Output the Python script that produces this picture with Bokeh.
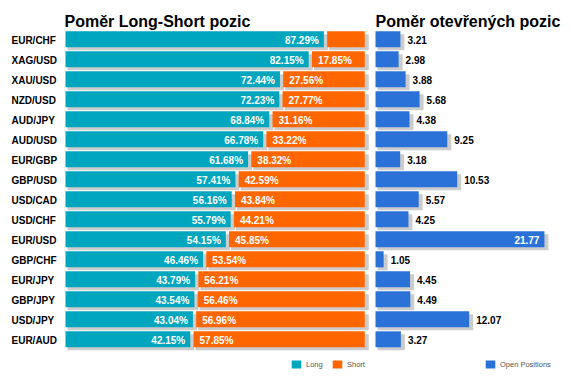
from bokeh.plotting import figure
from bokeh.models import (ColumnDataSource, Range1d, Label, Legend, LegendItem)
from bokeh.core.properties import value
from bokeh.embed import file_html
from bokeh.resources import INLINE

# ---------------- data ----------------
pairs = ["EUR/CHF", "XAG/USD", "XAU/USD", "NZD/USD", "AUD/JPY", "AUD/USD", "EUR/GBP", "GBP/USD",
         "USD/CAD", "USD/CHF", "EUR/USD", "GBP/CHF", "EUR/JPY", "GBP/JPY", "USD/JPY", "EUR/AUD"]
long_pct = [87.29, 82.15, 72.44, 72.23, 68.84, 66.78, 61.68, 57.41,
            56.16, 55.79, 54.15, 46.46, 43.79, 43.54, 43.04, 42.15]
short_pct = [12.71, 17.85, 27.56, 27.77, 31.16, 33.22, 38.32, 42.59,
             43.84, 44.21, 45.85, 53.54, 56.21, 56.46, 56.96, 57.85]
open_pos = [3.21, 2.98, 3.88, 5.68, 4.38, 9.25, 3.18, 10.53,
            5.57, 4.25, 21.77, 1.05, 4.45, 4.49, 12.07, 3.27]
title_left = "Poměr Long-Short pozic"
title_right = "Poměr otevřených pozic"
legend_long = "Long"
legend_short = "Short"
legend_open = "Open Positions"

# ---------------- style ----------------
CYAN = "#00A5BE"
ORANGE = "#FF6600"
BLUE = "#2B72D8"
SHADOW = "#CCCCCC"
FONT = "Liberation Sans"

W, H = 563, 371
LPX = 2.96      # px per percent (left panel)
RPX = 7.76      # px per unit (right panel)
YPX = 20.0      # px per row
L0 = 65         # frame px of 0% in left panel
R0 = 375        # frame px of 0 in right panel
TOP_ROW = 38.8  # frame px of first row centre
BAR_H = 0.8
GAP = 1.1       # gap (in %) between long and short bar

n = len(pairs)
idx = list(range(n))

y_start = (H - TOP_ROW) / YPX     # bottom of frame in row units
y_end = -TOP_ROW / YPX            # top of frame

p = figure(width=W, height=H, output_backend="svg", toolbar_location=None,
           x_range=Range1d(-L0 / LPX, (W - L0) / LPX),
           y_range=Range1d(y_start, y_end),
           x_axis_location=None, y_axis_location=None,
           min_border=0, outline_line_color=None)
p.extra_x_ranges = {"right": Range1d(-R0 / RPX, (W - R0) / RPX)}
p.xgrid.visible = False
p.ygrid.visible = False
p.background_fill_color = "white"

sx_l = 2 / LPX
ex_l = 4 / LPX
sx_r = 2 / RPX
ex_r = 4 / RPX
dy = 3 / YPX

top = [i - BAR_H / 2 for i in idx]
bot = [i + BAR_H / 2 for i in idx]
short_left = [l + GAP for l in long_pct]
short_right = [l + GAP + s for l, s in zip(long_pct, short_pct)]

src = ColumnDataSource(dict(
    pair=pairs, y=idx, top=top, bot=bot,
    long=long_pct, short=short_pct, sl=short_left, sr=short_right, opn=open_pos,
    zero=[0.0] * n,
    long_txt=["%.2f%%" % v for v in long_pct],
    # shadows
    ls_l=[sx_l] * n, ls_r=[l + ex_l for l in long_pct],
    ss_l=[a + sx_l for a in short_left], ss_r=[b + ex_l for b in short_right],
    os_l=[sx_r] * n, os_r=[o + ex_r for o in open_pos],
    st=[t + dy for t in top], sb=[b + dy for b in bot],
))

# shadows
p.quad(left="ls_l", right="ls_r", top="st", bottom="sb", source=src,
       fill_color=SHADOW, line_color=None)
p.quad(left="ss_l", right="ss_r", top="st", bottom="sb", source=src,
       fill_color=SHADOW, line_color=None)
p.quad(left="os_l", right="os_r", top="st", bottom="sb", source=src,
       fill_color=SHADOW, line_color=None, x_range_name="right")

# bars
r_long = p.quad(left="zero", right="long", top="top", bottom="bot", source=src,
                fill_color=CYAN, line_color=None)
r_short = p.quad(left="sl", right="sr", top="top", bottom="bot", source=src,
                 fill_color=ORANGE, line_color=None)
r_open = p.quad(left="zero", right="opn", top="top", bottom="bot", source=src,
                fill_color=BLUE, line_color=None, x_range_name="right")

txt_kw = dict(text_font=value(FONT), text_font_size=value("10px"),
              text_font_style="bold", text_baseline="middle")

# category labels
p.text(x="zero", y="y", text="pair", source=src, x_offset=-54, y_offset=1,
       text_color="black", text_align="left", **txt_kw)

# long labels
p.text(x="long", y="y", text="long_txt", source=src, x_offset=-5, y_offset=1,
       text_color="white", text_align="right", **txt_kw)

# short labels (only where they fit)
s_show = [i for i in idx if short_pct[i] * LPX > 45]
src_s = ColumnDataSource(dict(x=[short_left[i] for i in s_show], y=s_show,
                              t=["%.2f%%" % short_pct[i] for i in s_show]))
p.text(x="x", y="y", text="t", source=src_s, x_offset=6, y_offset=1,
       text_color="white", text_align="left", **txt_kw)

# open position labels
vmax_px = (W - R0) - 40
out_i = [i for i in idx if open_pos[i] * RPX < vmax_px]
in_i = [i for i in idx if open_pos[i] * RPX >= vmax_px]
src_o = ColumnDataSource(dict(x=[open_pos[i] for i in out_i], y=out_i,
                              t=["%.2f" % open_pos[i] for i in out_i]))
src_oi = ColumnDataSource(dict(x=[open_pos[i] for i in in_i], y=in_i,
                               t=["%.2f" % open_pos[i] for i in in_i]))
p.text(x="x", y="y", text="t", source=src_o, x_offset=7, y_offset=1,
       text_color="black", text_align="left", x_range_name="right", **txt_kw)
p.text(x="x", y="y", text="t", source=src_oi, x_offset=-5, y_offset=1,
       text_color="white", text_align="right", x_range_name="right", **txt_kw)

# titles
p.add_layout(Label(x=0, y=H - 21, x_units="data", y_units="screen", text=title_left,
                   text_font=FONT, text_font_size="16px", text_font_style="bold",
                   text_color="black", text_baseline="alphabetic", x_offset=-1))
p.add_layout(Label(x=0, y=H - 21, x_units="data", y_units="screen", text=title_right,
                   text_font=FONT, text_font_size="16px", text_font_style="bold",
                   text_color="black", text_baseline="alphabetic", x_range_name="right"))

leg_kw = dict(orientation="horizontal", glyph_width=12, glyph_height=10, label_height=10,
              label_standoff=4, spacing=5, padding=0, margin=0, border_line_color=None,
              background_fill_alpha=0, label_text_font=FONT, label_text_font_size="7.5px",
              label_text_color="#555555")
leg1 = Legend(items=[LegendItem(label=legend_long, renderers=[r_long]),
                     LegendItem(label=legend_short, renderers=[r_short])],
              location=(290, H - 369), **leg_kw)
leg2 = Legend(items=[LegendItem(label=legend_open, renderers=[r_open])],
              location=(484, H - 369), **leg_kw)
p.add_layout(leg1)
p.add_layout(leg2)

open("out.html", "w").write(file_html(p, INLINE))
